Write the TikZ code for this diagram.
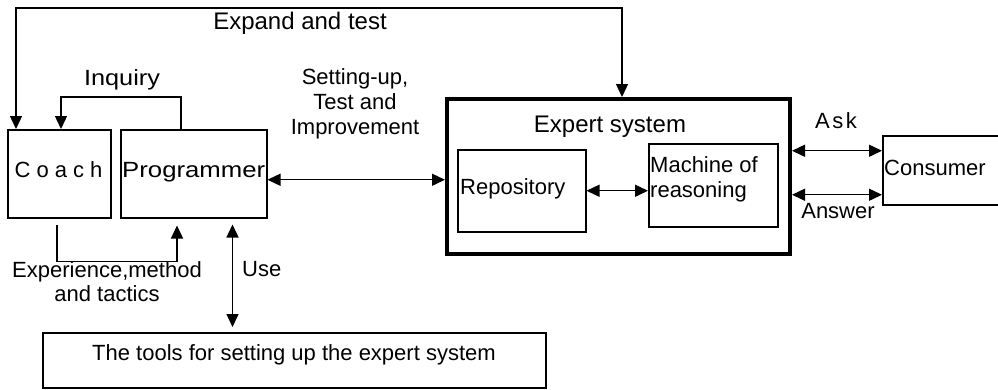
\documentclass[tikz,border=0pt]{standalone}
\usepackage{fontspec}
\setmainfont{Liberation Sans}
\usepackage{graphicx}
\usetikzlibrary{arrows.meta}
\tikzset{
  box/.style={draw, line width=1.5pt, inner sep=0pt, anchor=north west},
  bigbox/.style={draw, line width=4pt, inner sep=0pt, anchor=north west},
  lbl/.style={inner sep=0pt, font=\fontsize{22}{25}\selectfont},
  biglbl/.style={inner sep=0pt, font=\fontsize{24}{27}\selectfont},
  conn/.style={line width=1.4pt},
  tip/.style={-{Triangle[length=13pt,width=12pt]}},
  tips/.style={{Triangle[length=13pt,width=12pt]}-{Triangle[length=13pt,width=12pt]}},
}
\begin{document}
\begin{tikzpicture}[x=1pt,y=-1pt]
\clip (0,0) rectangle (998,389);
\fill[white] (0,0) rectangle (998,389);
% boxes
\node[box, minimum width=103pt, minimum height=88pt] (coach) at (7,129) {};
\node[box, minimum width=146pt, minimum height=88pt] (prog) at (120,129) {};
\node[bigbox, minimum width=343pt, minimum height=155pt] (expert) at (445,97) {};
\node[box, minimum width=128pt, minimum height=82pt] (repo) at (457,149) {};
\node[box, minimum width=129pt, minimum height=83pt] (mach) at (648,143) {};
\node[box, minimum width=130pt, minimum height=69pt] (cons) at (882,135) {};
\node[box, minimum width=503pt, minimum height=55pt] (tools) at (42,332) {};
% box texts
\node[lbl, anchor=base] (coachtxt) at (58.5,177) {C\kern6pt o\kern6pt a\kern6pt c\kern6pt h};
\node[lbl, anchor=base west] (progtxt) at (122,177) {\scalebox{1.17}[1]{Programmer}};
\node[lbl, anchor=base west] (repotxt) at (460,194) {Repository};
\node[lbl, anchor=west, align=left] (machtxt) at (650,179) {Machine of\\reasoning};
\node[lbl, anchor=base west] (constxt) at (884,175) {Consumer};
\node[lbl, anchor=base west] (toolstxt) at (92,360) {The tools for setting up the expert system};
\node[biglbl, anchor=base] (experttxt) at (610,132) {Expert system};
% connectors
\draw[conn,tips] ([xshift=9pt]coach.north west) -- ++(0,-121) -| ([xshift=177pt]expert.north west);
\draw[conn,tip] ([xshift=61pt]prog.north west) -- ++(0,-32) -| ([xshift=54pt]coach.north west);
\coordinate (pe) at ([yshift=-6pt]prog.east);
\draw[conn,tips] (pe) -- (pe -| expert.west);
\draw[conn,tips] (repo.east) -- (repo.east -| mach.west);
\coordinate (ca) at ([yshift=19.5pt]cons.west);
\coordinate (cb) at ([yshift=-24.5pt]cons.west);
\draw[conn,tips] (ca -| expert.east) -- (ca);
\draw[conn,tips] (cb -| expert.east) -- (cb);
\coordinate (ex) at ([xshift=50pt]coach.south west);
\draw[conn,tip,shorten <=6pt,shorten >=7pt] (ex) -- ++(0,43) -| ([xshift=57pt]prog.south west);
\coordinate (u) at ([xshift=112.5pt]prog.south west);
\draw[conn,tips,shorten <=6pt,shorten >=5pt] (u) -- (u |- tools.north);
% connector labels
\node[biglbl, anchor=base] (expandtxt) at (300,29) {Expand and test};
\node[lbl, anchor=base] (inqtxt) at (122,85) {\scalebox{1.15}[1]{Inquiry}};
\node[lbl, align=center] (settxt) at (355,104) {Setting-up,\\Test and\\Improvement};
\node[lbl, anchor=base] (asktxt) at (836,128) {A\kern2.5pt s\kern2.5pt k};
\node[lbl, anchor=base] (anstxt) at (838,218) {Answer};
\node[lbl, align=center, font=\fontsize{22}{24}\selectfont] (exptxt) at (107,282) {Experience,method\\and tactics};
\node[lbl, anchor=base west] (usetxt) at (242,276) {Use};
\end{tikzpicture}
\end{document}
